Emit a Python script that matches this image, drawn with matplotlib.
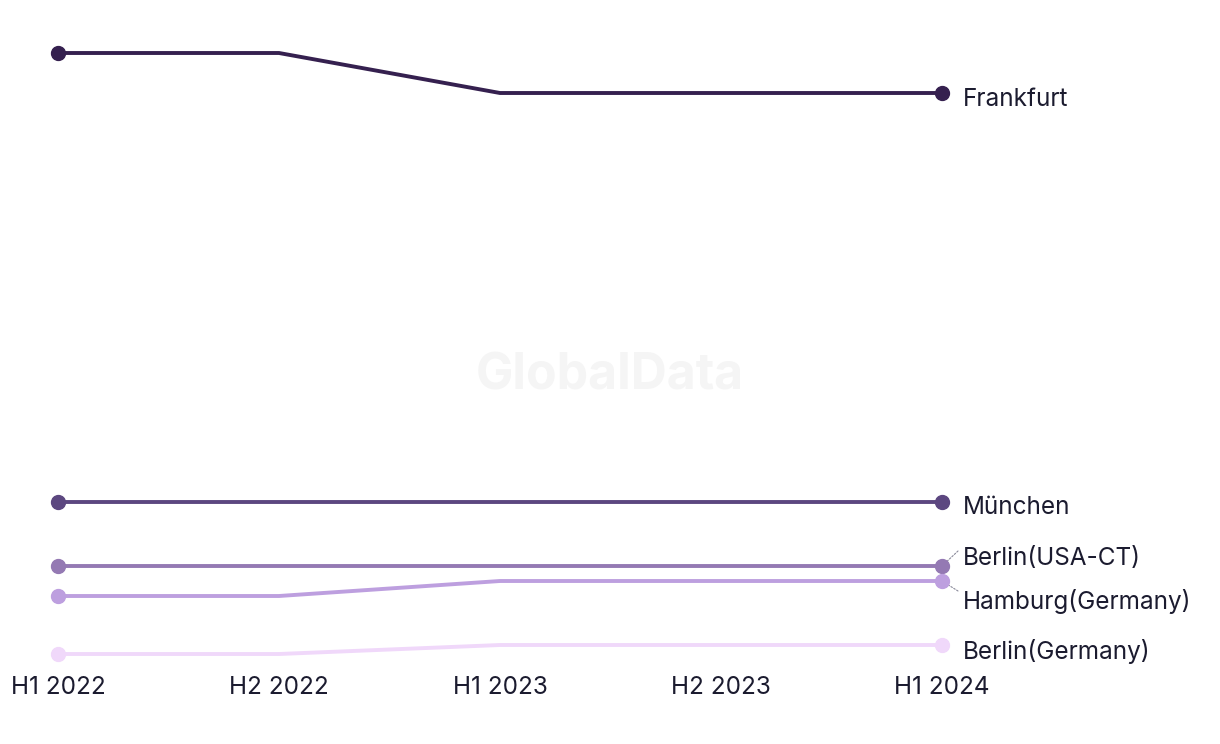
import matplotlib
matplotlib.use("Agg")
import matplotlib.pyplot as plt

periods = ["H1 2022", "H2 2022", "H1 2023", "H2 2023", "H1 2024"]
frankfurt = [66.1, 66.1, 62.1, 62.1, 62.1]
muenchen = [21.2, 21.2, 21.2, 21.2, 21.2]
berlin_usa = [14.8, 14.8, 14.8, 14.8, 14.8]
hamburg = [11.8, 11.8, 13.3, 13.3, 13.3]
berlin_de = [6.0, 6.0, 6.9, 6.9, 6.9]

series = [
    ("Frankfurt", frankfurt, "#35204f", -7, None),
    ("München", muenchen, "#5c4780", -6, None),
    ("Berlin(USA-CT)", berlin_usa, "#9479b3", 7, 15),
    ("Hamburg(Germany)", hamburg, "#bd9fdf", -20, -10),
    ("Berlin(Germany)", berlin_de, "#f0d8fa", -7, None),
]

plt.rcParams['font.family'] = ['Inter', 'DejaVu Sans']
W, H = 1220, 744
fig = plt.figure(figsize=(W / 100, H / 100), dpi=100)
ax = fig.add_axes([58 / W, (H - 654) / H, 884 / W, 601 / H])
x = list(range(len(periods)))
FS = 17.5
TXT = '#1b1b2f'

for name, vals, col, off, leader in series:
    ax.plot(x, vals, color=col, lw=2.8, solid_capstyle='round', clip_on=False, zorder=3)
    ax.plot([x[0], x[-1]], [vals[0], vals[-1]], 'o', color=col, ms=10, clip_on=False, zorder=4)
    ax.annotate(name, xy=(x[-1], vals[-1]), xytext=(21 * 0.72, off * 0.72), textcoords='offset points',
                va='center', ha='left', fontsize=FS, color=TXT)
    if leader is not None:
        ax.annotate('', xy=(x[-1], vals[-1]), xytext=(16 * 0.72, leader * 0.72), textcoords='offset points',
                    arrowprops=dict(arrowstyle='-', color='#8a8a9a', lw=0.8, linestyle=(0, (1.5, 1.5)),
                                    shrinkA=0, shrinkB=5))

ax.set_xlim(0, 4)
ax.set_ylim(6.0, 66.1)
ax.set_xticks(x)
ax.set_xticklabels(periods, fontsize=FS, color=TXT)
ax.tick_params(axis='x', length=0, pad=15.5)
ax.set_yticks([])
for s in ax.spines.values():
    s.set_visible(False)

fig.text(610 / W, (H - 376) / H, "GlobalData", ha='center', va='center', fontsize=36,
         fontweight='bold', color='#f5f5f5', zorder=0)

fig.savefig("out.png", dpi=100)
